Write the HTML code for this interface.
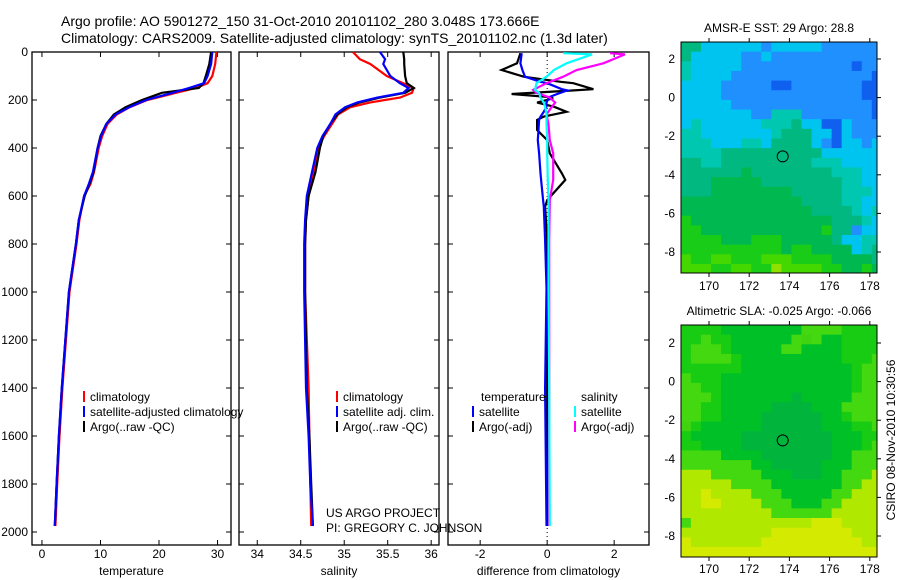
<!DOCTYPE html>
<html><head><meta charset="utf-8"><style>
html,body{margin:0;padding:0;background:#fff;}
svg{display:block;font-family:"Liberation Sans",sans-serif;}
</style></head><body>
<svg id="fig" width="900" height="580" viewBox="0 0 900 580" xmlns="http://www.w3.org/2000/svg">
<text x="61" y="26" font-size="14">Argo profile: AO 5901272_150 31-Oct-2010 20101102_280 3.048S 173.666E</text>
<text x="61" y="43" font-size="14">Climatology: CARS2009. Satellite-adjusted climatology: synTS_20101102.nc (1.3d later)</text>
<g id="plots"></g>
</svg>
<script>
// ---------- data ----------
var tDepth = [0,50,100,130,150,170,200,230,260,300,350,400,500,550,600,700,800,1000,1400,1600,1800,1975];
var tempClim = [29.8,29.6,29.1,28.3,26.3,22.9,18.0,15.0,12.8,11.2,10.3,9.7,8.9,8.3,7.2,6.4,5.9,4.7,3.5,3.0,2.6,2.3];
var tempSat  = [29.1,28.9,28.3,27.7,25.1,22.3,17.8,14.9,12.6,11.0,10.1,9.5,8.7,8.0,7.2,6.3,5.8,4.6,3.4,2.9,2.5,2.2];
var tempArgo = [28.9,28.6,28.0,27.6,26.8,20.5,17.1,14.3,12.3,11.0,10.0,9.5,8.8,8.1,7.3,6.3,5.8,4.6,3.4,2.9,2.5,2.2];
var sDepth = [0,30,50,100,130,150,170,190,210,230,260,300,350,400,500,600,700,800,1000,1400,1600,1800,1975];
var salClim = [35.10,35.18,35.30,35.49,35.68,35.80,35.78,35.64,35.30,35.07,34.93,34.86,34.77,34.70,34.65,34.59,34.56,34.55,34.55,34.59,34.60,34.61,34.62];
var salSat  = [35.41,35.47,35.45,35.53,35.64,35.74,35.68,35.38,35.15,35.01,34.90,34.84,34.75,34.69,34.63,34.57,34.55,34.54,34.54,34.56,34.59,34.61,34.64];
var salArgo = [35.68,35.69,35.69,35.70,35.72,35.80,35.70,35.41,35.18,35.03,34.92,34.84,34.76,34.72,34.67,34.59,34.56,34.55,34.55,34.57,34.60,34.62,34.64];
var dtDepth = [5,47,75,103,124,130,155,160,175,187,193,211,228,249,269,283,325,367,422,506,533,617,644,783,985,1400,1975];
var dTempSat  = [-0.76,-0.80,-0.74,-0.66,-0.20,0.00,0.44,0.60,0.30,0.08,0.04,-0.02,-0.02,-0.10,-0.20,-0.24,-0.26,-0.28,-0.24,-0.20,-0.18,-0.12,-0.10,-0.06,-0.02,-0.06,-0.02];
var dTempArgo = [-0.80,-0.90,-1.36,-0.70,0.40,0.78,1.38,0.80,-1.06,0.00,0.18,-0.30,0.20,0.58,-0.10,-0.30,-0.30,0.00,0.08,0.44,0.54,0.00,-0.06,0.00,0.00,0.00,0.00];
var dsDepth = [5,10,47,75,103,130,158,170,190,211,228,260,300,367,422,533,617,783,985,1400,1975];
var dSalSat  = [0.48,1.34,0.58,0.20,-0.02,-0.32,-0.36,-0.24,-0.20,-0.10,-0.06,-0.02,-0.02,0.00,0.00,0.02,0.04,0.04,0.04,0.06,0.08];
var dSalArgo = [1.88,2.32,1.68,0.88,0.48,-0.02,-0.42,-0.32,0.08,0.24,0.14,-0.02,0.04,0.08,0.18,0.18,0.08,0.06,0.06,0.06,0.06];
var depthTicks = [0,200,400,600,800,1000,1200,1400,1600,1800,2000];
var tempTicks = [0,10,20,30];
var salTicks = [34,34.5,35,35.5,36];
var diffTicks = [-2,0,2];
var lonTicks = [170,172,174,176,178];
var latTicks = [2,0,-2,-4,-6,-8];
var floatLon = 173.666, floatLat = -3.048;
// map grids: rows from lat 2.9 downward (0.5 deg), cols lon 168.6 -> 178.6 (0.5 deg)
var sstGrid = [
"ssccccccbcccccbbbbbb",
"scccccbbcbbbbbbbbbbb",
"tcccccbbbbbbbbbbbBbb",
"tccccbbbbbbbbbbbbbbB",
"ccccbbbbbBBbbbbbbbBB",
"ccccbbbbbbbbbbbbbbBB",
"cccccbbbbbbbbbbbbbbB",
"cccccccbbtttbbbbbbbB",
"ctcccccctttsccBBcbbb",
"ttccccccctsssccBcbbb",
"tttcccttcsssscbBccbc",
"ttttsssssssssscccccc",
"ssttssssssssstttcccc",
"ssssssgsssssssstttcc",
"sssgggggssssssssttcc",
"sssggggggggssssstttc",
"ggggggggggggssssttcc",
"gggggggggggggsssstct",
"Gggggggggggggggssstc",
"GGggggggggggggGssbcc",
"GGGGgggGGGgggggscctt",
"GGGGGGGGGGgGGggggcts",
"LGGLLGGGLLLGGGGggggs",
"LLLGGLLGGyLLLLGGggGg",
"yLLLLLLLyyyyLLLGGGgG",
"yyLGLLLyYYYyyLLGGGGG"];
var slaGrid = [
"GGGGggggggggLLLLGGGG",
"GGLGGggggggLlLggGGGG",
"GLLLGgggggLLggggGGGG",
"GLLLLGggggggggggGGGL",
"GGGGGGgggggggggggGLL",
"LGGGgggggggggggggGLL",
"LLGGgggggggggggggGLL",
"LLLGggggggghgggggLLL",
"LLGGggggghhhhgggLLLL",
"LLGGgggghhhhhhggGLLL",
"lGgggggghhhhhhgggGGL",
"GggggghhhhhhhhhgggGG",
"GGgggghhhhhhhhhgggGL",
"LLLLgggghhhhhhhggLLL",
"LLLLLLLgghhhhhgggLLL",
"yyyLLLLLggghhhggLLLy",
"yyyyyLLLLgggggggLLyy",
"yyYyyyyLLLgggggLLyyy",
"yyYYyyyyLLLgggLLyyyy",
"yyyyyyyyyLLLLLLyyyyy",
"LyyyyyyyyyyyyYYYyyyy",
"yyyyyyyyyYYYYYYYYyyy",
"YyyyyyyyYYYYYYYYYYyy",
"YYYYYYYYYYYYYYYYYYYY"];
var sstColors = {B:"#1060f0",b:"#2090ff",c:"#00c4f0",t:"#00c8b0",s:"#00b880",g:"#00b850",G:"#18cc18",L:"#44d800",y:"#90e000",Y:"#b8f000"};
var slaColors = {G:"#18cc14",g:"#00c028",h:"#00b43c",l:"#40d410",L:"#44d810",y:"#b0e800",Y:"#d4ea00"};

// ---------- drawing ----------
var NS="http://www.w3.org/2000/svg";
var root=document.getElementById('plots');
function mk(tag,attrs,parent){var e=document.createElementNS(NS,tag);for(var k in attrs)e.setAttribute(k,attrs[k]);(parent||root).appendChild(e);return e;}
var Y0=52, Ypm=0.24, PT=52, PB=545;
function yD(d){return Y0+d*Ypm;}
function panel(name,x0,x1,v0,v1,ticks,fmt,title){
  var g=mk('g',{});
  
  
  var sx=function(v){return x0+(v-v0)/(v1-v0)*(x1-x0);};
  var fr=mk('rect',{x:x0,y:PT,width:x1-x0,height:PB-PT,fill:'none',stroke:'#000','stroke-width':1.3},g);
  
  
  ticks.forEach(function(t){var x=sx(t);
    mk('line',{x1:x,x2:x,y1:PB,y2:PB-5,stroke:'#000'},g);mk('line',{x1:x,x2:x,y1:PT,y2:PT+5,stroke:'#000'},g);
    var tl=mk('text',{x:x,y:558,'font-size':12,'text-anchor':'middle'},g);tl.textContent=fmt(t);
    
    
  });
  depthTicks.forEach(function(d){var y=yD(d);
    mk('line',{x1:x0,x2:x0+5,y1:y,y2:y,stroke:'#000'},g);mk('line',{x1:x1,x2:x1-5,y1:y,y2:y,stroke:'#000'},g);
  });
  var at=mk('text',{x:(x0+x1)/2,y:575,'font-size':12,'text-anchor':'middle'},g);at.textContent=title;
  
  
  return {g:g,sx:sx};
}
function line(p,depths,vals,color,name){
  var pts=depths.map(function(d,i){return p.sx(vals[i]).toFixed(1)+','+yD(d).toFixed(1);}).join(' ');
  var pl=mk('polyline',{points:pts,fill:'none',stroke:color,'stroke-width':2.2},p.g);
  
  
}
function legend(g,x,y,color,label,name){
  mk('line',{x1:x,x2:x,y1:y-10,y2:y+1,stroke:color,'stroke-width':2},g);
  var t=mk('text',{x:x+6,y:y,'font-size':12},g);t.textContent=label;
  
  
}
depthTicks.forEach(function(d){
  var t=mk('text',{x:28,y:yD(d)+4,'font-size':12,'text-anchor':'end'});t.textContent=d;
  
  
});
var pT=panel('temperature',32,231,-1.7,32.3,tempTicks,String,'temperature');
line(pT,tDepth,tempClim,'#ff0000','temp-climatology-line');
line(pT,tDepth,tempArgo,'#000000','temp-argo-line');
line(pT,tDepth,tempSat,'#0000ff','temp-satellite-line');
legend(pT.g,84,401,'#ff0000','climatology','legend-climatology');
legend(pT.g,84,416,'#0000ff','satellite-adjusted climatology','legend-satellite-adjusted');
legend(pT.g,84,431,'#000000','Argo(..raw -QC)','legend-argo');
var pS=panel('salinity',239,439,33.79,36.09,salTicks,String,'salinity');
line(pS,sDepth,salClim,'#ff0000','sal-climatology-line');
line(pS,sDepth,salArgo,'#000000','sal-argo-line');
line(pS,sDepth,salSat,'#0000ff','sal-satellite-line');
legend(pS.g,337,401,'#ff0000','climatology','legend-sal-climatology');
legend(pS.g,337,416,'#0000ff','satellite adj. clim.','legend-sal-satellite');
legend(pS.g,337,431,'#000000','Argo(..raw -QC)','legend-sal-argo');
var cr1=mk('text',{x:326,y:517,'font-size':12},pS.g);cr1.textContent='US ARGO PROJECT';


var cr2=mk('text',{x:326,y:532,'font-size':12},pS.g);cr2.textContent='PI: GREGORY C. JOHNSON';


var pD=panel('difference',448,649,-2.96,3.04,diffTicks,String,'difference from climatology');
mk('line',{x1:pD.sx(0),x2:pD.sx(0),y1:PT,y2:PB,stroke:'#000','stroke-dasharray':'1,3'},pD.g);
line(pD,dtDepth,dTempArgo,'#000000','diff-temp-argo-line');
line(pD,dtDepth,dTempSat,'#0000ff','diff-temp-satellite-line');
line(pD,dsDepth,dSalArgo,'#ff00ff','diff-sal-argo-line');
line(pD,dsDepth,dSalSat,'#00ffff','diff-sal-satellite-line');
var lt=mk('text',{x:481,y:401,'font-size':12},pD.g);lt.textContent='temperature';


var ls=mk('text',{x:581,y:401,'font-size':12},pD.g);ls.textContent='salinity';


legend(pD.g,473,416,'#0000ff','satellite','legend-diff-temp-satellite');
legend(pD.g,473,431,'#000000','Argo(-adj)','legend-diff-temp-argo');
legend(pD.g,575,416,'#00ffff','satellite','legend-diff-sal-satellite');
legend(pD.g,575,431,'#ff00ff','Argo(-adj)','legend-diff-sal-argo');

function map(name,top,bottom,lat2y,grid,colors,title,lonLabelY){
  var L=681,R=877,PX=20.1,PY=19.3;
  var g=mk('g',{});
  
  
  var sx=function(lon){return 709+(lon-170)*PX;};
  var sy=function(lat){return lat2y+(2-lat)*PY;};
  var latTop=2+(lat2y-top)/PY;
  grid.forEach(function(row,r){
    for(var c=0;c<row.length;c++){
      var lo=168.6+c*0.5, la=latTop-r*0.5;
      var x=Math.max(L,sx(lo)), x2=Math.min(R,sx(lo+0.5)+0.5);
      var y=Math.max(top,sy(la)), y2=Math.min(bottom,sy(la-0.5)+0.5);
      if(x2>x&&y2>y) mk('rect',{x:x,y:y,width:x2-x,height:y2-y,fill:colors[row[c]]},g);
    }
  });
  mk('rect',{x:L,y:top,width:R-L,height:bottom-top,fill:'none',stroke:'#000','stroke-width':1},g);
  lonTicks.forEach(function(lo){var x=sx(lo);
    mk('line',{x1:x,x2:x,y1:top,y2:top-4,stroke:'#000'},g);mk('line',{x1:x,x2:x,y1:bottom,y2:bottom+4,stroke:'#000'},g);
    var t=mk('text',{x:x,y:lonLabelY,'font-size':12,'text-anchor':'middle'},g);t.textContent=lo;
    
    
  });
  latTicks.forEach(function(la){var y=sy(la);
    mk('line',{x1:R,x2:R+4,y1:y,y2:y,stroke:'#000'},g);
    var t=mk('text',{x:675,y:y+4,'font-size':12,'text-anchor':'end'},g);t.textContent=la;
    
    
  });
  var c=mk('circle',{cx:sx(floatLon),cy:sy(floatLat),r:5.5,fill:'none',stroke:'#000','stroke-width':1},g);
  
  
  var tt=mk('text',{x:779,y:top-10,'font-size':12,'text-anchor':'middle'},g);tt.textContent=title;
  
  
}
map('sst',42,273,59,sstGrid,sstColors,'AMSR-E SST: 29 Argo: 28.8',290);
map('sla',325,557,343,slaGrid,slaColors,'Altimetric SLA: -0.025 Argo: -0.066',573);
var stamp=mk('text',{x:0,y:0,'font-size':12,'text-anchor':'middle',transform:'translate(895,440) rotate(-90)'});
stamp.textContent='CSIRO 08-Nov-2010 10:30:56';


</script>
</body></html>
